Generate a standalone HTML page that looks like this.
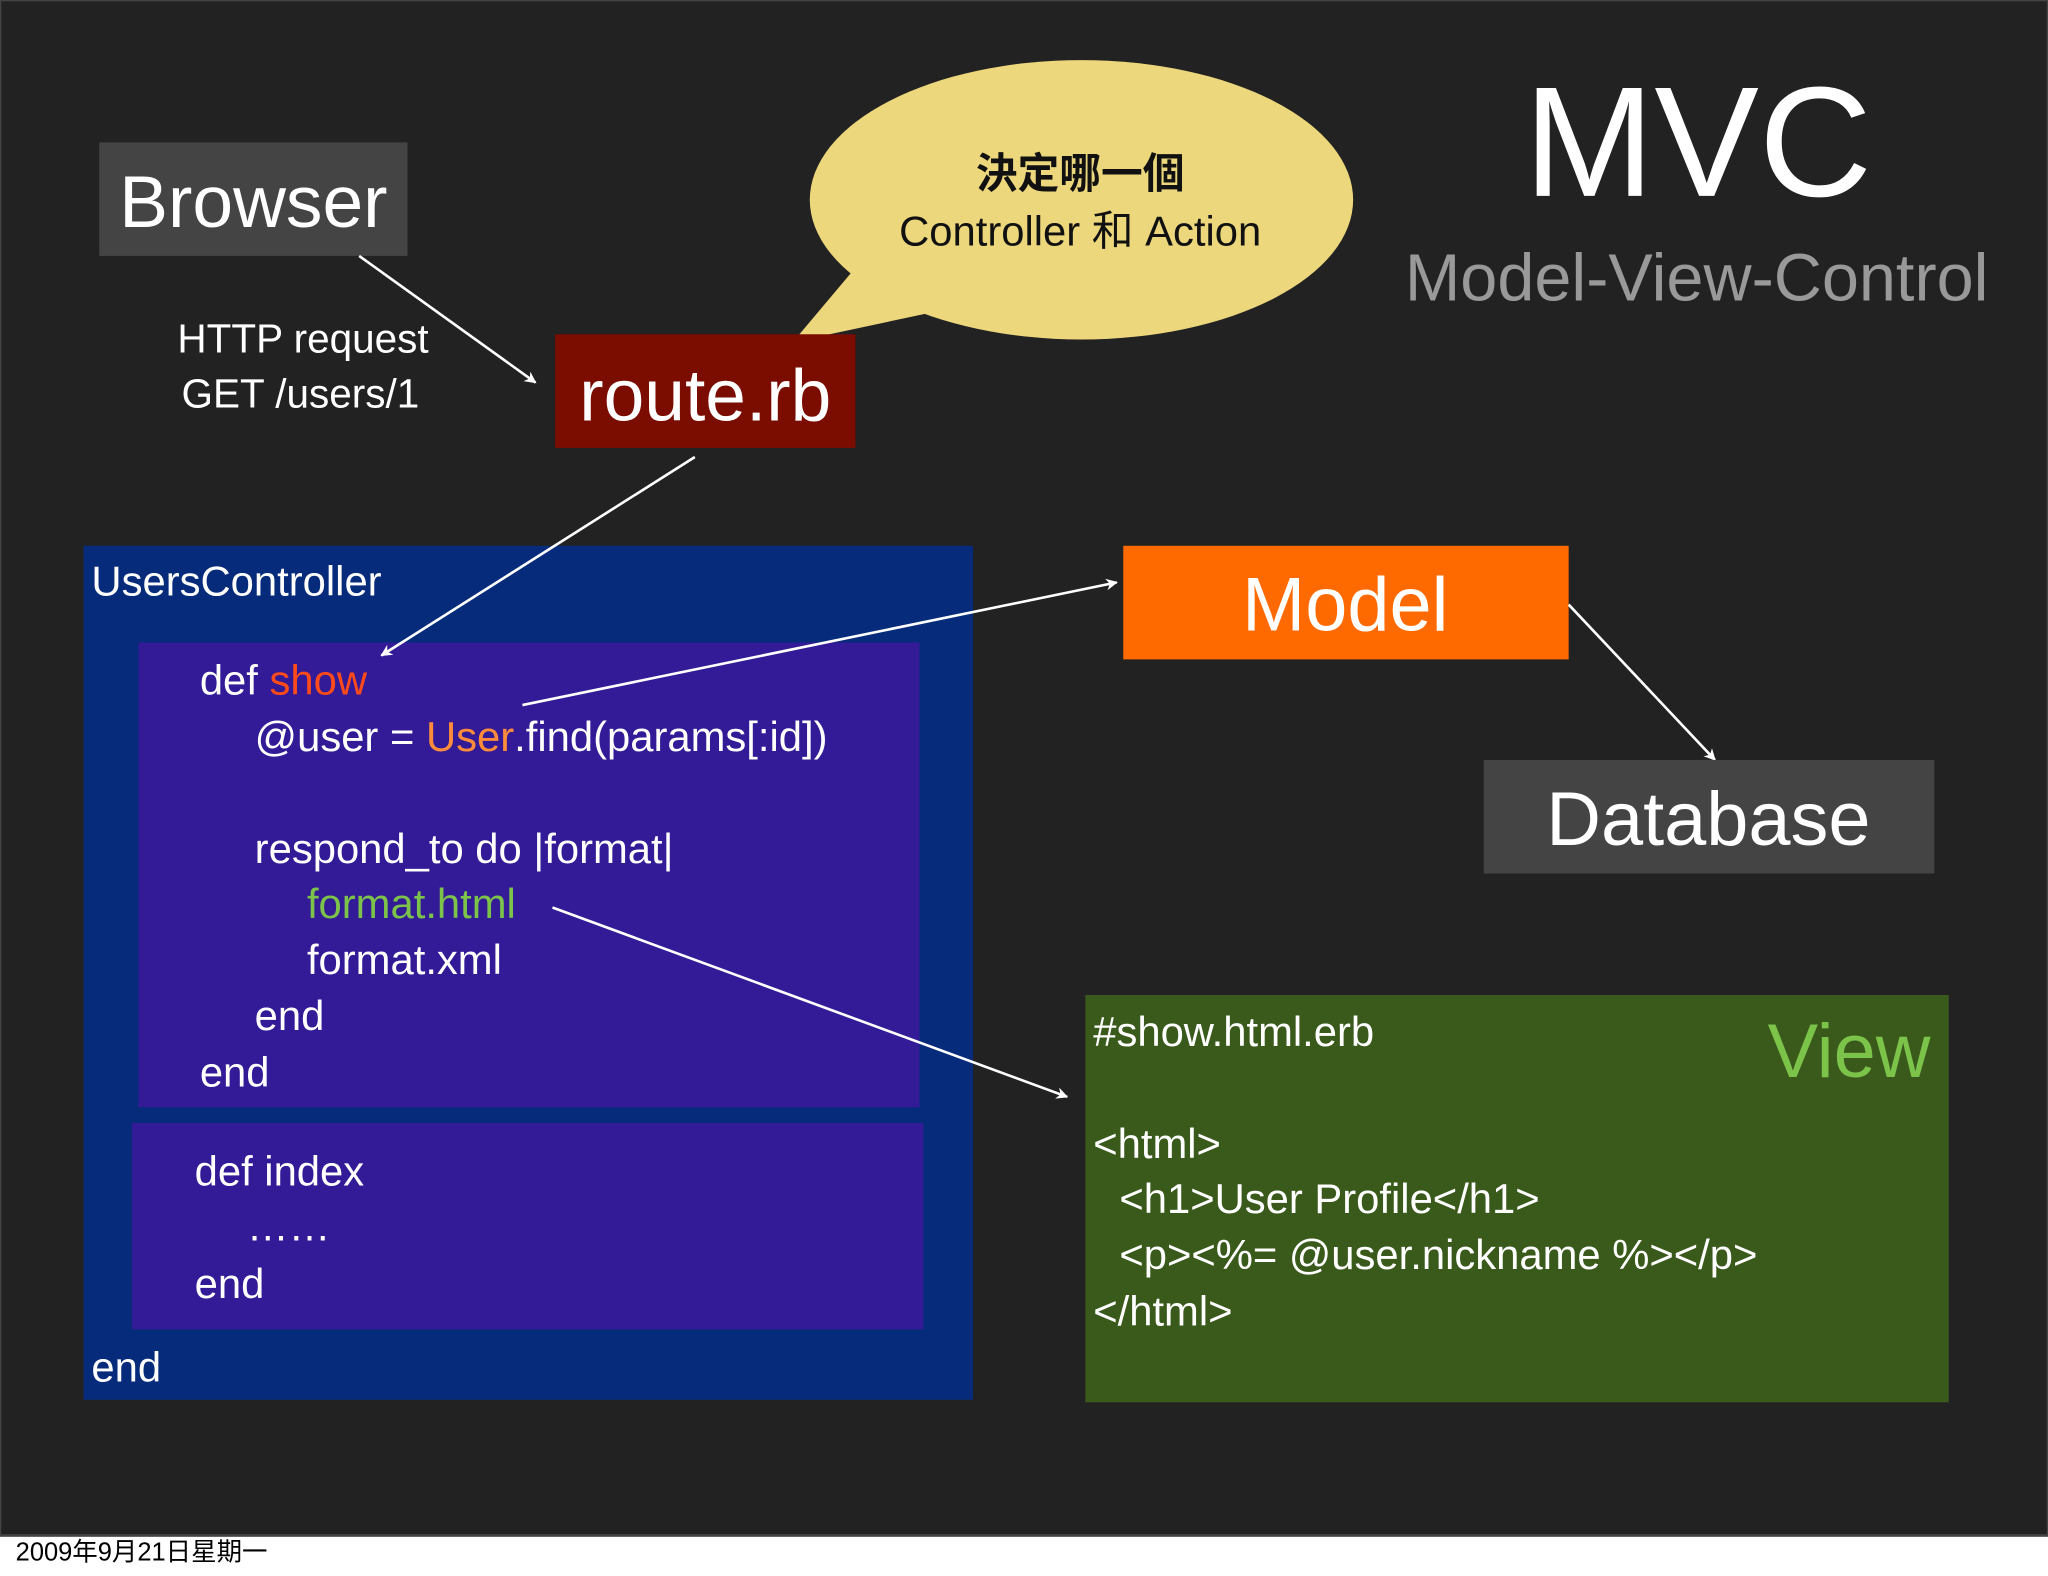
<!DOCTYPE html>
<html><head><meta charset="utf-8"><style>
html,body{margin:0;padding:0;background:#fff;}
svg{display:block;}
text{font-family:"Liberation Sans","Noto Sans CJK TC",sans-serif;}
</style></head><body>
<svg width="2048" height="1576" viewBox="0 0 1568 1207" preserveAspectRatio="none" xmlns="http://www.w3.org/2000/svg">
<defs>
<marker id="ah" viewBox="0 0 10 10" refX="9" refY="5" markerWidth="9" markerHeight="9" orient="auto" markerUnits="userSpaceOnUse"><path d="M0,0 L10,5 L0,10 L3,5 z" fill="#fff"/></marker>
</defs>
<rect x="0" y="0" width="1568" height="1176" fill="#222"/>
<rect x="0" y="0" width="1568" height="1176" fill="none" stroke="#444" stroke-width="2"/>
<text x="12" y="1195" font-size="19.5" fill="#000">2009年9月21日星期一</text>

<!-- Browser -->
<rect x="76" y="109" width="236" height="87" fill="#444"/>
<text x="194" y="174" font-size="56" fill="#fff" text-anchor="middle">Browser</text>
<text x="232" y="270" font-size="31" fill="#fff" text-anchor="middle">HTTP request</text>
<text x="230" y="312" font-size="31" fill="#fff" text-anchor="middle">GET /users/1</text>
<line x1="275" y1="196" x2="410" y2="293" stroke="#fff" stroke-width="2" marker-end="url(#ah)"/>

<!-- bubble -->
<path d="M607,262 L655,205 L710,240 Z" fill="#ecd77c"/>
<ellipse cx="828" cy="153" rx="208" ry="107" fill="#ecd77c"/>
<text x="827" y="144" font-size="32" fill="#111" text-anchor="middle" font-weight="bold">決定哪一個</text>
<text x="827" y="188" font-size="32" fill="#111" text-anchor="middle">Controller 和 Action</text>

<!-- route.rb -->
<rect x="425" y="256" width="230" height="87" fill="#7a0c00"/>
<text x="540" y="322" font-size="56" fill="#fff" text-anchor="middle">route.rb</text>

<!-- MVC -->
<text x="1300" y="150" font-size="120" fill="#fff" text-anchor="middle">MVC</text>
<text x="1299" y="230" font-size="51" fill="#999" text-anchor="middle">Model-View-Control</text>

<!-- Controller -->
<rect x="64" y="418" width="681" height="654" fill="#062b7a"/>
<text x="70" y="456" font-size="32" fill="#fff">UsersController</text>
<rect x="106" y="492" width="598" height="356" fill="#331a96"/>
<rect x="101" y="860" width="606" height="158" fill="#331a96"/>
<g font-size="32" fill="#fff">
<text x="153" y="532">def <tspan fill="#ff4a1a">show</tspan></text>
<text x="195" y="575">@user = <tspan fill="#ff8c3a">User</tspan>.find(params[:id])</text>
<text x="195" y="661">respond_to do |format|</text>
<text x="235" y="703" fill="#7cc34a">format.html</text>
<text x="235" y="746">format.xml</text>
<text x="195" y="789">end</text>
<text x="153" y="832">end</text>
<text x="149" y="908">def index</text>
<text x="189" y="950">……</text>
<text x="149" y="994">end</text>
<text x="70" y="1058">end</text>
</g>
<line x1="532" y1="350" x2="292" y2="502" stroke="#fff" stroke-width="2" marker-end="url(#ah)"/>

<!-- Model -->
<rect x="860" y="418" width="341" height="87" fill="#ff6a00"/>
<text x="1030" y="483" font-size="58" fill="#fff" text-anchor="middle">Model</text>
<line x1="400" y1="540" x2="855" y2="446" stroke="#fff" stroke-width="2" marker-end="url(#ah)"/>
<line x1="1201" y1="463" x2="1313" y2="582" stroke="#fff" stroke-width="2" marker-end="url(#ah)"/>

<!-- Database -->
<rect x="1136" y="582" width="345" height="87" fill="#444"/>
<text x="1308" y="647" font-size="58" fill="#fff" text-anchor="middle">Database</text>

<!-- View -->
<rect x="831" y="762" width="661" height="312" fill="#3a5a1c"/>
<text x="1478" y="825" font-size="58" fill="#7cc34a" text-anchor="end">View</text>
<g font-size="32" fill="#fff">
<text x="837" y="801">#show.html.erb</text>
<text x="837" y="887">&lt;html&gt;</text>
<text x="857" y="929">&lt;h1&gt;User Profile&lt;/h1&gt;</text>
<text x="857" y="972">&lt;p&gt;&lt;%= @user.nickname %&gt;&lt;/p&gt;</text>
<text x="837" y="1015">&lt;/html&gt;</text>
</g>
<line x1="423" y1="695" x2="817" y2="840" stroke="#fff" stroke-width="2" marker-end="url(#ah)"/>
</svg>
</body></html>
